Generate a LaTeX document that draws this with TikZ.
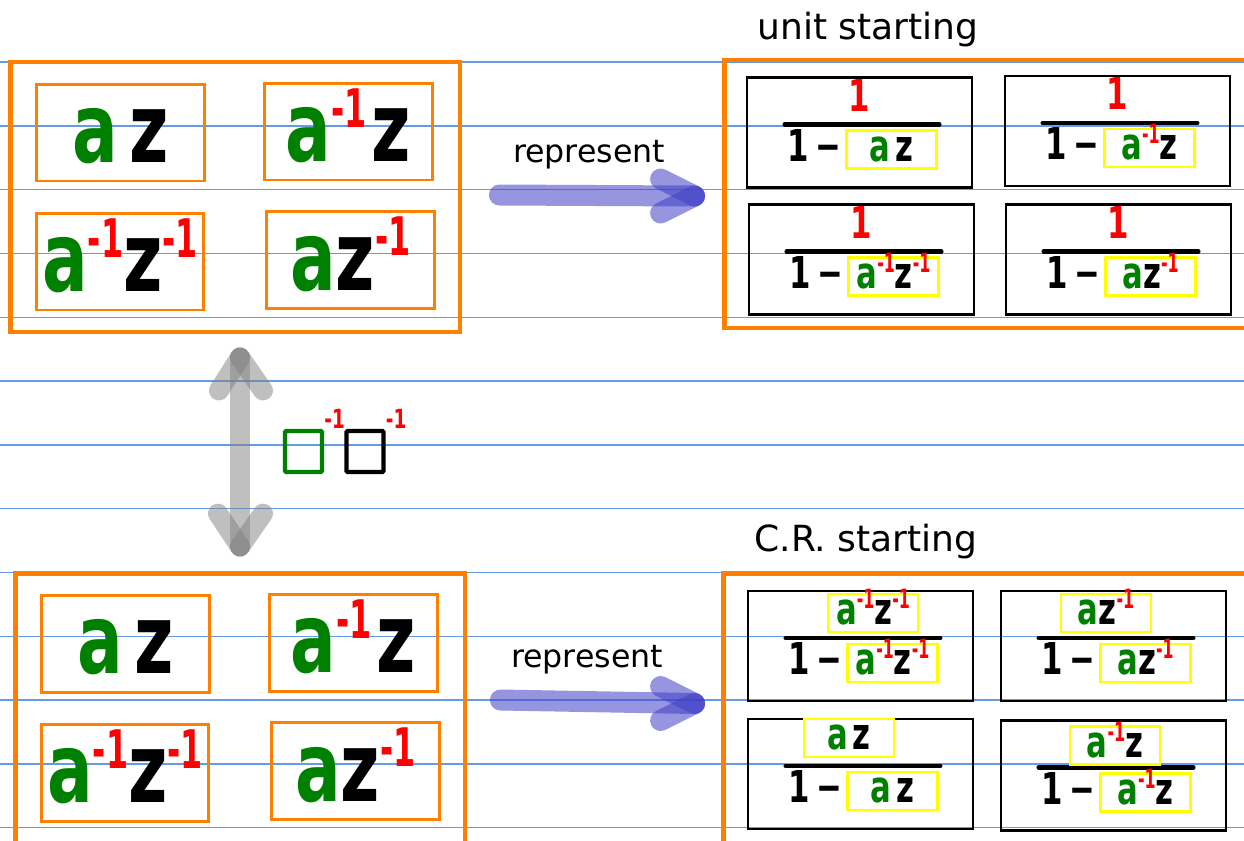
\documentclass[tikz,border=0pt]{standalone}
\usepackage{fontspec}
\usepackage{graphicx}
\setmainfont{DejaVu Sans}
\newfontfamily\handfont{DejaVu Sans}[FakeStretch=0.7]
\usetikzlibrary{calc,positioning}

\definecolor{hgreen}{RGB}{0,128,0}
\definecolor{hred}{RGB}{255,0,0}
\definecolor{horange}{RGB}{255,128,0}
\definecolor{hyellow}{RGB}{255,255,0}
\definecolor{ruleblue}{RGB}{100,155,230}
\definecolor{arrblue}{RGB}{64,64,200}

% handwritten pieces
\newcommand\ha{\textcolor{hgreen}{a}}
\newcommand\hz{\textcolor{black}{z}}
\newcommand\hinv[1][1]{\textcolor{hred}{\raisebox{0.65ex}{\scalebox{#1}{\scalebox{0.47}[0.55]{-1}}}}}

% one fraction cell: name, x, y, denominator
\newcommand\fraccell[4]{%
  \node[cellbox] (#1) at (#2,#3) {};
  \draw[fracbar] ($(#1)+(-75,-8)$) -- ($(#1)+(80,-8)$);
  \node[ybox] (#1den) at ($(#1)+(32,17)$) {#4};
  \node[smallhand, left=2pt of #1den] (#1one) {1\,−};
}

\begin{document}
\begin{tikzpicture}[x=0.02cm, y=-0.02cm,
    ruleline/.style={ruleblue, line width=0.8pt},
    panel/.style={draw=horange, line width=2.8pt, inner sep=0pt},
    bighand/.style={font=\handfont\bfseries\fontsize{55}{55}\selectfont, text height=1.2cm, text depth=0pt},
    smallhand/.style={font=\handfont\bfseries\fontsize{25}{25}\selectfont, text height=0.46cm, text depth=0pt, inner sep=0pt},
    exprbox/.style={draw=horange, line width=1.7pt, minimum width=3.36cm, minimum height=1.94cm, inner sep=0pt, bighand},
    cellbox/.style={draw, line width=1.5pt, minimum width=4.5cm, minimum height=2.2cm, inner sep=0pt},
    ybox/.style={draw=hyellow, line width=1.3pt, minimum width=1.8cm, minimum height=0.76cm, smallhand},
    fracbar/.style={line width=2.3pt, line cap=round},
    note/.style={font=\fontsize{18}{18}\selectfont, inner sep=0pt},
    reparrow/.style={arrblue, opacity=0.55, line width=0.42cm, line cap=round},
    swaparrow/.style={gray, opacity=0.5, line width=0.4cm, line cap=round},
    phbox/.style={line width=2.3pt, minimum width=0.74cm, minimum height=0.82cm, inner sep=0pt, rounded corners=0.5pt}]

\useasboundingbox (0,0) rectangle (1244,840);
\fill[white] (0,0) rectangle (1244,840);
\clip (0,0) rectangle (1244,840);

% ruled paper
\foreach \k in {0,...,12} {
    \draw[ruleline] (0,{62+63.8*\k}) -- (1244,{62+63.8*\k});
}

% Left column: the four products, twice
\foreach \p/\dx/\dy in {u/0/0, l/5/511} {
    \begin{scope}[shift={(\dx,\dy)}]
        \node[panel, minimum width=9cm, minimum height=5.4cm] (\p panel) at (235,197) {};
        \node[exprbox] (\p 1) at (120.5,132.5) {\ha\hspace{0.12em}\hz};
        \node[exprbox] (\p 2) at (348.5,131.5) {\ha\hinv\hspace{0.05em}\hz};
        \node[exprbox] (\p 3) at (120,261.5) {\ha\hinv\hz\hinv};
        \node[exprbox] (\p 4) at (350.5,260) {\ha\hz\hinv};
    \end{scope}
}

% Right column, top: unit starting
\node[note, font=\fontsize{20.5}{20.5}\selectfont] (unitlbl) at (868,30) {unit starting};
\node[panel, minimum width=10.72cm, minimum height=5.36cm] (urpanel) at (992,194) {};
\fraccell{c1}{859.5}{132.5}{\ha\hspace{0.1em}\hz}
\fraccell{c2}{1117.5}{131}{\ha\hinv[1.1]\hz}
\fraccell{c3}{861.5}{259.5}{\ha\hinv[1.1]\hz\hinv[1.1]}
\fraccell{c4}{1118.5}{259.5}{\ha\hz\hinv[1.1]}
\foreach \c in {c1,c2,c3,c4} {
    \node[smallhand, text=hred] (\c num) at ($(\c)+(0,-33)$) {1};
}

% Right column, bottom: C.R. starting
\node[note, font=\fontsize{20.5}{20.5}\selectfont] (crlbl) at (866,542) {C.R. starting};
\node[panel, minimum width=10.74cm, minimum height=5.54cm] (lrpanel) at (991.5,711.5) {};
\fraccell{d1}{860.5}{646}{\ha\hinv[1.1]\hz\hinv[1.1]}
\fraccell{d2}{1113.5}{646}{\ha\hz\hinv[1.1]}
\fraccell{d3}{860.5}{774}{\ha\hspace{0.1em}\hz}
\fraccell{d4}{1113.5}{775.5}{\ha\hinv[1.1]\hz}
\node[ybox] (d1num) at ($(d1)+(12.5,-33)$) {\ha\hinv[1.1]\hz\hinv[1.1]};
\node[ybox] (d2num) at ($(d2)+(-7.5,-33)$) {\ha\hz\hinv[1.1]};
\node[ybox] (d3num) at ($(d3)+(-11.5,-36)$) {\ha\hspace{0.1em}\hz};
\node[ybox] (d4num) at ($(d4)+(1.5,-30)$) {\ha\hinv[1.1]\hz};

% represent arrows
\node[note] (rep1) at (589,155) {represent};
\draw[reparrow] ($(upanel.east)+(37,-2)$) coordinate (r1s) -- ($(urpanel.west)+(-27,2)$) coordinate (r1e);
\draw[reparrow] (r1e) -- ++(-34,-17);
\draw[reparrow] (r1e) -- ++(-34,17);

\node[note] (rep2) at (587,660) {represent};
\draw[reparrow] ($(lpanel.east)+(33,-8)$) coordinate (r2s) -- ($(lrpanel.west)+(-26,-8)$) coordinate (r2e);
\draw[reparrow] (r2e) -- ++(-34,-17);
\draw[reparrow] (r2e) -- ++(-34,17);

% swap both
\draw[swaparrow] ($(upanel.south)+(5,23)$) coordinate (sw1) -- ($(lpanel.north)+(0,-24)$) coordinate (sw2);
\draw[swaparrow] (sw1) -- ++(-21,33);
\draw[swaparrow] (sw1) -- ++(23,33);
\draw[swaparrow] (sw2) -- ++(-22,-33);
\draw[swaparrow] (sw2) -- ++(23,-33);

\node[phbox, draw=hgreen] (sqa) at (303.5,451.5) {};
\node[phbox, draw=black] (sqz) at (365,451.5) {};
\node[font=\handfont\bfseries\fontsize{15}{15}\selectfont, text=hred, inner sep=0pt, anchor=south west] (sqainv) at (sqa.north east) {-1};
\node[font=\handfont\bfseries\fontsize{15}{15}\selectfont, text=hred, inner sep=0pt, anchor=south west] (sqzinv) at (sqz.north east) {-1};

\end{tikzpicture}
\end{document}
